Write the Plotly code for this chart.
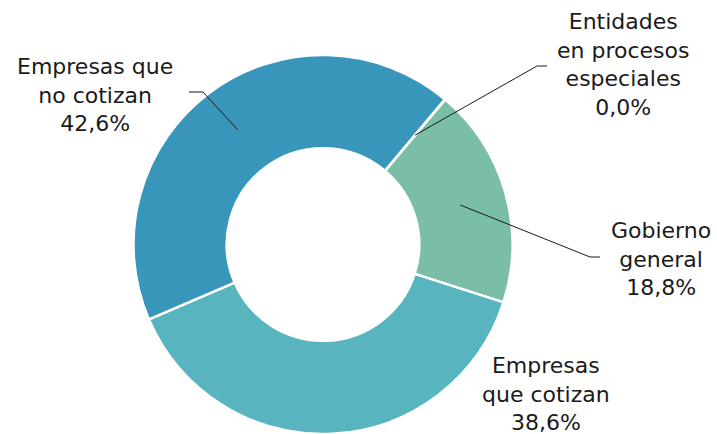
import math
import plotly.graph_objects as go

labels = ["Entidades en procesos especiales", "Gobierno general",
          "Empresas que cotizan", "Empresas que no cotizan"]
values = [0.04, 18.8, 38.6, 42.6]
label_text = ["Entidades<br>en procesos<br>especiales<br>0,0%",
              "Gobierno<br>general<br>18,8%",
              "Empresas<br>que cotizan<br>38,6%",
              "Empresas que<br>no cotizan<br>42,6%"]
colors = ["#7ABEA7", "#7ABEA7", "#58B5BF", "#3896BB"]

W, H = 717, 434
CX, CY, R = 323, 244.5, 189.5
HOLE = 0.508
ROT = 40

fig = go.Figure(go.Pie(
    labels=labels, values=values, sort=False, direction="clockwise",
    rotation=ROT, hole=HOLE, textinfo="none", hoverinfo="label+percent",
    marker=dict(colors=colors, line=dict(color="white", width=2.5)),
    domain=dict(x=[(CX - R) / W, (CX + R) / W], y=[max(0, (H - CY - R) / H), (H - CY + R) / H]),
    showlegend=False,
))

def px2paper(x, y):
    return x / W, 1 - y / H

# label positions (pixels) and leader line elbows
label_pos = [(623, 65), (661, 259), (546, 394), (95, 95)]
elbows = [((537, 66), (547, 66)), ((590, 257), (600, 257)), None, ((203, 92), (189, 92))]

total = sum(values)
ang = ROT
rmid = R * (1 + HOLE) / 2
shapes = []
annotations = []
for i, v in enumerate(values):
    a0 = ang
    ang += v / total * 360
    mid = math.radians((a0 + ang) / 2)
    tx = CX + rmid * math.sin(mid)
    ty = CY - rmid * math.cos(mid)
    if elbows[i] is not None:
        (ex, ey), (fx, fy) = elbows[i]
        p = [px2paper(tx, ty), px2paper(ex, ey), px2paper(fx, fy)]
        shapes.append(dict(type="path", xref="paper", yref="paper",
                           path=f"M {p[0][0]},{p[0][1]} L {p[1][0]},{p[1][1]} L {p[2][0]},{p[2][1]}",
                           line=dict(color="#1a1a1a", width=1)))
    lx, ly = px2paper(*label_pos[i])
    annotations.append(dict(x=lx, y=ly, xref="paper", yref="paper", text=label_text[i],
                            showarrow=False, xanchor="center", yanchor="middle",
                            align="center", font=dict(size=22, color="#1a1a1a",
                                                      family="DejaVu Sans")))

fig.update_layout(
    width=W, height=H, margin=dict(l=0, r=0, t=0, b=0),
    paper_bgcolor="white", plot_bgcolor="white",
    shapes=shapes, annotations=annotations,
)
fig.write_html("out.html", config={"displayModeBar": False},
               post_script="document.body.style.margin='0';document.body.style.overflow='hidden';")
